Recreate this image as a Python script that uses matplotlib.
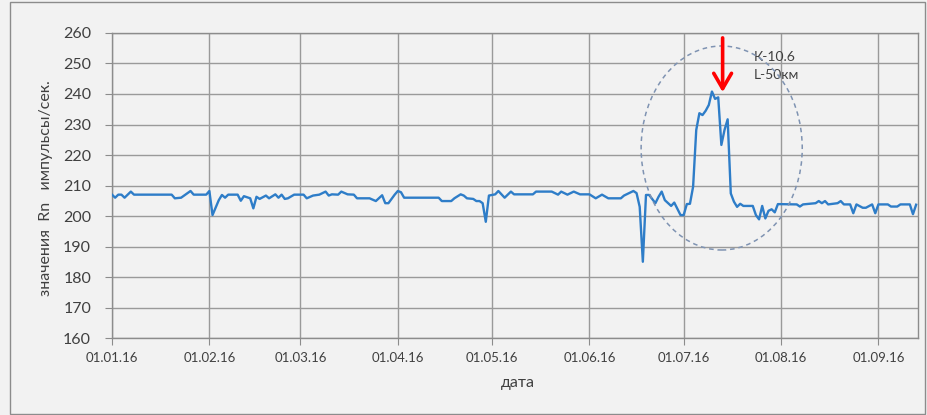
import matplotlib
matplotlib.use("Agg")
import matplotlib.pyplot as plt
import matplotlib.dates as mdates
from matplotlib.patches import Ellipse, Rectangle
import pandas as pd

plt.rcParams['font.family'] = ['Lato', 'Noto Sans', 'DejaVu Sans']

# day offsets from 01.01.2016 and Rn values (impulses/sec)
days = [0, 1, 2, 3, 4, 6, 7, 19, 20, 22, 25, 26, 30, 31, 32, 34, 35, 36, 37, 40,
        41, 42, 44, 45, 46, 47, 49, 50, 52, 53, 54, 55, 56, 58, 60, 61, 62, 64, 66, 68,
        69, 70, 72, 73, 75, 77, 78, 82, 84, 86, 87, 88, 90, 91, 92, 93, 104, 105, 108, 109,
        111, 112, 113, 115, 116, 117, 118, 119, 120, 122, 123, 125, 127, 128, 134, 135, 140, 142, 143, 145,
        147, 149, 152, 154, 156, 158, 162, 163, 166, 167, 168, 169, 170, 171, 173, 174, 175, 176, 178, 179,
        181, 182, 183, 184, 185, 186, 187, 188, 189, 190, 191, 192, 193, 194, 195, 196, 197, 198, 199, 200,
        201, 204, 205, 206, 207, 208, 209, 210, 211, 212, 218, 219, 220, 224, 225, 226, 227, 228, 231, 232,
        233, 235, 236, 237, 239, 240, 242, 243, 244, 247, 248, 250, 251, 254, 255, 256]
values = [207, 206, 207, 207, 206, 208, 207, 207, 205.8, 206, 208.2, 207, 207, 208.2, 200.3, 205.2, 206.9, 206, 207, 207,
          205, 206.5, 205.8, 202.5, 206.3, 205.6, 206.7, 205.8, 207.1, 206, 207, 205.6, 205.8, 207, 207, 207, 205.8, 206.7, 207, 208,
          206.7, 207.1, 207, 208, 207.1, 207, 205.8, 205.8, 204.9, 206.8, 204.2, 204.2, 207, 208.2, 207.8, 206, 206, 204.9, 204.9, 205.8,
          207.1, 206.7, 205.8, 205.6, 204.9, 204.9, 204.2, 198.1, 206.7, 207.1, 208.2, 206, 208, 207.1, 207.1, 208, 208, 207, 208, 207,
          208, 207.1, 207.1, 205.8, 207, 205.8, 205.8, 206.7, 208.2, 207.5, 203, 185, 206.9, 206.9, 204.2, 206.3, 208, 205.2, 203.3, 204.4,
          200.3, 200.3, 203.9, 204, 209.6, 228.2, 233.7, 233.1, 234.5, 236.4, 240.8, 238.4, 238.9, 223.3, 228.2, 231.7, 207.4, 204.7, 203, 204,
          203.3, 203.3, 200.3, 198.9, 203.3, 199.2, 201.7, 202.2, 201.2, 203.9, 203.8, 203.1, 203.8, 204.2, 204.9, 204.2, 204.9, 203.8, 204.2, 204.9,
          203.8, 203.8, 200.9, 203.8, 202.7, 202.7, 203.8, 200.9, 203.8, 203.8, 203.1, 203.1, 203.8, 203.8, 200.6, 203.7]

month_ticks = ['2016-01-01', '2016-02-01', '2016-03-01', '2016-04-01', '2016-05-01',
               '2016-06-01', '2016-07-01', '2016-08-01', '2016-09-01']
y_ticks = [160, 170, 180, 190, 200, 210, 220, 230, 240, 250, 260]

start = pd.Timestamp('2016-01-01')
dates = start + pd.to_timedelta(days, unit='D')

bg = '#f2f2f2'
fig = plt.figure(figsize=(9.28, 4.15), dpi=100, facecolor=bg)
ax = fig.add_axes([112/928, 1-338/415, (918-112)/928, (338-33)/415])
ax.set_facecolor(bg)

ax.plot(dates, values, color='#2e7dc8', lw=1.7, zorder=3)

x0 = mdates.date2num(start)
ax.set_xlim(x0, x0 + 256.6)
ax.set_ylim(160, 260)
ax.set_yticks(y_ticks)
ax.set_xticks([mdates.date2num(pd.Timestamp(d)) for d in month_ticks])
ax.xaxis.set_major_formatter(mdates.DateFormatter('%d.%m.%y'))

ax.grid(True, color='#9a9a9a', lw=1.0, zorder=1)
for s in ax.spines.values():
    s.set_color('#8c8c8c')
    s.set_linewidth(1.0)
ax.tick_params(axis='y', direction='out', length=5, color='#8c8c8c', pad=10,
               labelsize=11.5, labelcolor='#404040')
ax.tick_params(axis='x', direction='out', length=5, color='#8c8c8c', pad=5,
               labelsize=9.5, labelcolor='#404040')

# dashed ellipse around anomaly
ell = Ellipse((x0 + 194.1, 222.3), width=51.3, height=66.9, fill=False,
              edgecolor='#7f93b2', lw=1.1, ls=(0, (3, 2.5)), zorder=4, clip_on=False)
ax.add_patch(ell)

# red arrow (open V head)
ax.annotate('', xy=(x0 + 194.4, 240.6), xytext=(x0 + 194.4, 258.4),
            arrowprops=dict(arrowstyle='->,head_length=0.55,head_width=0.32', color='#ff0000',
                            lw=2.6, mutation_scale=20, shrinkA=0, shrinkB=0), zorder=5)

ax.text(x0 + 204.3, 252.1, 'К-10.6', fontsize=10, color='#404040', va='center', ha='left')
ax.text(x0 + 204.3, 246.2, 'L-50км', fontsize=10, color='#404040', va='center', ha='left')

fig.text(46/928, 1-188/415, 'значения  Rn   импульсы/сек.', rotation=90,
         ha='center', va='center', fontsize=11.5, color='#404040')
fig.text(518/928, 1-383/415, 'дата', ha='center', va='center', fontsize=11.5, color='#404040')

# outer chart border
fig.patches.append(Rectangle((10/928, 1/415), 915/928, 412/415, transform=fig.transFigure,
                             fill=False, edgecolor='#8c8c8c', lw=1.0))

fig.savefig('out.png', dpi=100, facecolor=bg)
